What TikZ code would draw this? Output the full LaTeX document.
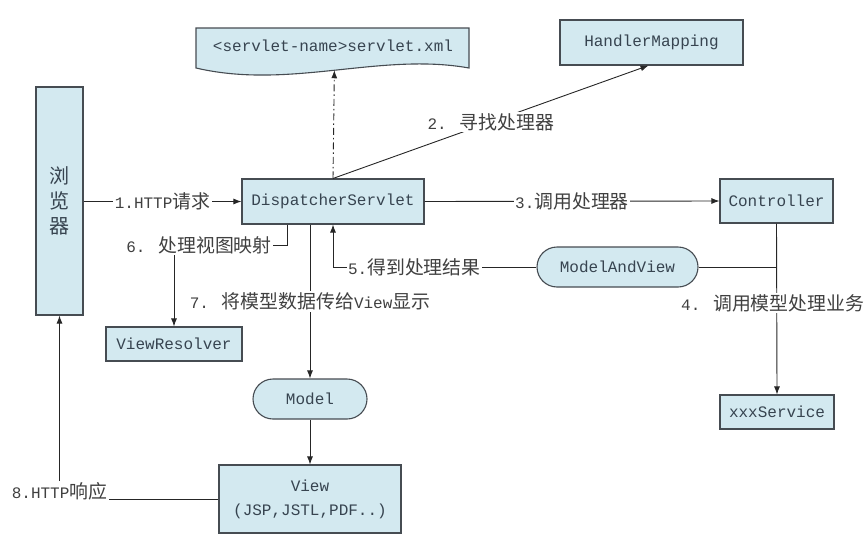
\documentclass[tikz,border=0pt]{standalone}
\usepackage{fontspec}
\setmainfont{Liberation Mono}
\newfontfamily\cjk[Scale=1.18]{Noto Sans CJK SC}
\usetikzlibrary{arrows.meta,shapes.misc}
\definecolor{boxblue}{RGB}{211,233,240}
\definecolor{boxline}{RGB}{70,76,82}
\definecolor{inktext}{RGB}{55,68,80}
\newcommand{\zh}[1]{{\cjk #1}}
\tikzset{
  box/.style={draw=boxline, fill=boxblue, line width=1.1pt, text=inktext, inner sep=0pt},
  pill/.style={box, rounded rectangle},
  link/.style={line width=0.9pt, draw=black!85},
  arr/.style={link, -{Latex[length=8pt,width=6pt]}},
  dashdot/.style={dash pattern=on 7pt off 3pt on 1.5pt off 3pt},
  lbl/.style={fill=white, inner sep=1.5pt, text=black!75},
}

\begin{document}
\begin{tikzpicture}[x=1pt, y=-1pt, font=\fontsize{16}{19}\selectfont]
			%%%%% START %%%%%
			\useasboundingbox (0,0) rectangle (867,546);
			
			% boxes
			\node[box, minimum width=47, minimum height=228, align=center,
			      font=\cjk\fontsize{17}{25}\selectfont] (browser) at (59.5,201) {浏\\览\\器};
			\node[box, minimum width=183, minimum height=45] (hmap) at (651.5,42.5) {HandlerMapping};
			\node[box, minimum width=182, minimum height=45] (disp) at (333,201.5) {DispatcherServlet};
			\node[box, minimum width=113, minimum height=44] (ctrl) at (776.5,201) {Controller};
			\node[pill, minimum width=161, minimum height=40] (mav) at (617.5,267) {ModelAndView};
			\node[box, minimum width=136, minimum height=34] (vres) at (174,344) {ViewResolver};
			\node[pill, minimum width=114, minimum height=40] (model) at (310,399) {Model};
			\node[box, minimum width=182, minimum height=68, align=center,
			      font=\fontsize{16}{24}\selectfont] (view) at (310,499) {View\\(JSP,JSTL,PDF..)};
			\node[box, minimum width=114, minimum height=34] (svc) at (777,412) {xxxService};
			
			% servlet.xml document shape
			\draw[box] (196,28) -- (469,28) -- (469,68)
			  .. controls (380,52) and (290,90) .. (196,68) coordinate[pos=0.5] (xmlfoot) -- cycle;
			\node[text=inktext] (xml) at (333,46) {<servlet-name>servlet.xml};
			
			% connectors
			\draw[arr] (browser.east |- disp) -- node[lbl] {1.HTTP\zh{请求}} (disp.west);
			\draw[arr] (disp.north) -- node[lbl] {2. \zh{寻找处理器}} ([xshift=-3pt]hmap.south);
			\draw[arr, dashdot] (disp.north) -- (xmlfoot);
			\draw[arr] (disp.east) -- node[lbl] {3.\zh{调用处理器}} (ctrl.west);
			\draw[arr] (ctrl.south) -- node[lbl, pos=0.465, xshift=-4pt] {4. \zh{调用模型处理业务}} (svc.north);
			\draw[link] (mav.east) -- (ctrl.south |- mav.east);
			\draw[arr] (mav.west) -- node[lbl, pos=0.6] {5.\zh{得到处理结果}} (disp.south |- mav.west) -- (disp.south);
			
			\node[lbl] (vmap) at (199,245) {6. \zh{处理视图映射}};
			\draw[link] ([xshift=46pt]disp.south west) |- (vmap.east);
			\draw[arr] (vmap.south -| vres.north) -- (vres.north);
			
			\draw[arr] (disp.south -| model.north) -- node[lbl] {7. \zh{将模型数据传给}View\zh{显示}} (model.north);
			\draw[arr] (model.south) -- (view.north);
			\draw[arr] (view.west) -| node[lbl, pos=0.5, above=-3pt] {8.HTTP\zh{响应}} (browser.south);
			%%%%% END %%%%%
\end{tikzpicture}
\end{document}
